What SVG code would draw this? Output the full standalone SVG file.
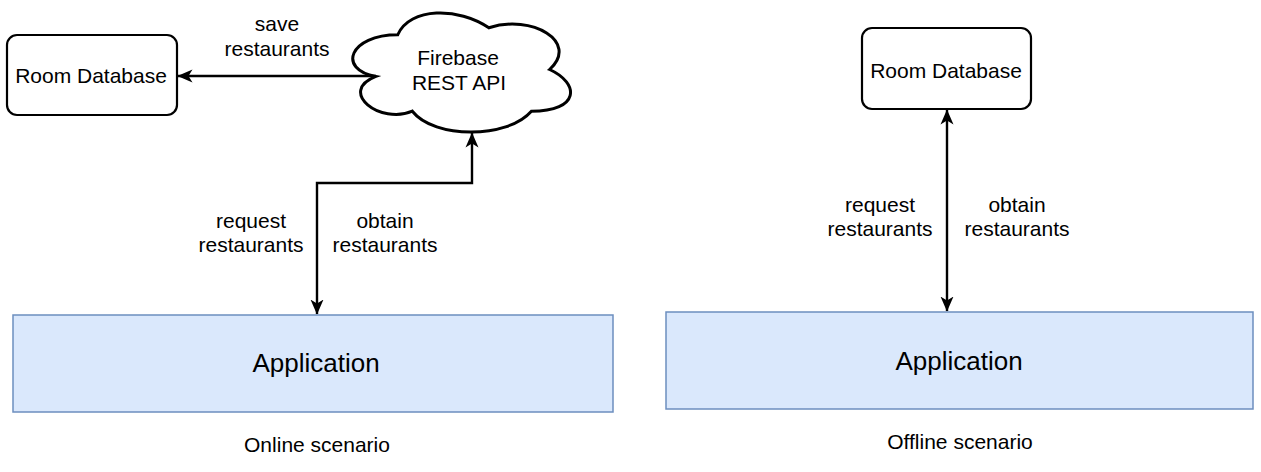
<svg xmlns="http://www.w3.org/2000/svg" width="1261" height="472" viewBox="0 0 1261 472">
<defs>
<style>
.t{font-family:"Liberation Sans",Arial,Helvetica,sans-serif;font-size:21px;fill:#000;text-anchor:middle}
.app{font-size:26px}
.box{fill:#fff;stroke:#000;stroke-width:2.2}
.appbox{fill:#dae8fc;stroke:#6c8ebf;stroke-width:1.5}
.cloud{fill:#fff;stroke:#000;stroke-width:3}
.edge{fill:none;stroke:#000;stroke-width:2.4}
</style>
<marker id="arr" markerUnits="userSpaceOnUse" viewBox="0 0 15 14" refX="14.5" refY="7" markerWidth="15" markerHeight="14" orient="auto-start-reverse">
<path d="M0,0.5 L15,7 L0,13.5 L4,7 Z" fill="#000"/>
</marker>
</defs>
<rect width="1261" height="472" fill="#fff"/>

<g id="online-room-db">
<rect class="box" x="7" y="35" width="170" height="80" rx="10"/>
<text class="t" x="91" y="83">Room Database</text>
</g>

<g id="firebase">
<path class="cloud" transform="translate(337,0) scale(243,139)" vector-effect="non-scaling-stroke" d="M0.25,0.25 C0.05,0.25 0,0.5 0.16,0.55 C0,0.66 0.18,0.9 0.31,0.8 C0.4,1 0.7,1 0.8,0.8 C1,0.8 1,0.6 0.875,0.5 C1,0.3 0.8,0.1 0.625,0.2 C0.5,0.05 0.3,0.05 0.25,0.25 Z"/>
<text class="t" x="458" y="65">Firebase</text>
<text class="t" x="459" y="90">REST API</text>
</g>

<g id="online-app">
<rect class="appbox" x="13" y="315" width="600" height="97"/>
<text class="t app" x="316" y="372">Application</text>
</g>
<text class="t" x="317" y="452">Online scenario</text>

<g id="offline-room-db">
<rect class="box" x="862" y="28" width="169" height="81" rx="10"/>
<text class="t" x="946" y="78">Room Database</text>
</g>

<g id="offline-app">
<rect class="appbox" x="666" y="312" width="587" height="97"/>
<text class="t app" x="959" y="370">Application</text>
</g>
<text class="t" x="960" y="449">Offline scenario</text>

<g id="connectors">
<path class="edge" d="M376,76 L178,76" marker-end="url(#arr)"/>
<path class="edge" d="M317,314 L317,183 L472,183 L472,133" marker-start="url(#arr)" marker-end="url(#arr)"/>
<path class="edge" d="M947,110 L947,311" marker-start="url(#arr)" marker-end="url(#arr)"/>
</g>

<g id="labels">
<text class="t" x="277" y="31">save</text>
<text class="t" x="277" y="56">restaurants</text>
<text class="t" x="251" y="228">request</text>
<text class="t" x="251" y="252">restaurants</text>
<text class="t" x="385" y="228">obtain</text>
<text class="t" x="385" y="252">restaurants</text>
<text class="t" x="880" y="212">request</text>
<text class="t" x="880" y="236">restaurants</text>
<text class="t" x="1017" y="212">obtain</text>
<text class="t" x="1017" y="236">restaurants</text>
</g>
</svg>
